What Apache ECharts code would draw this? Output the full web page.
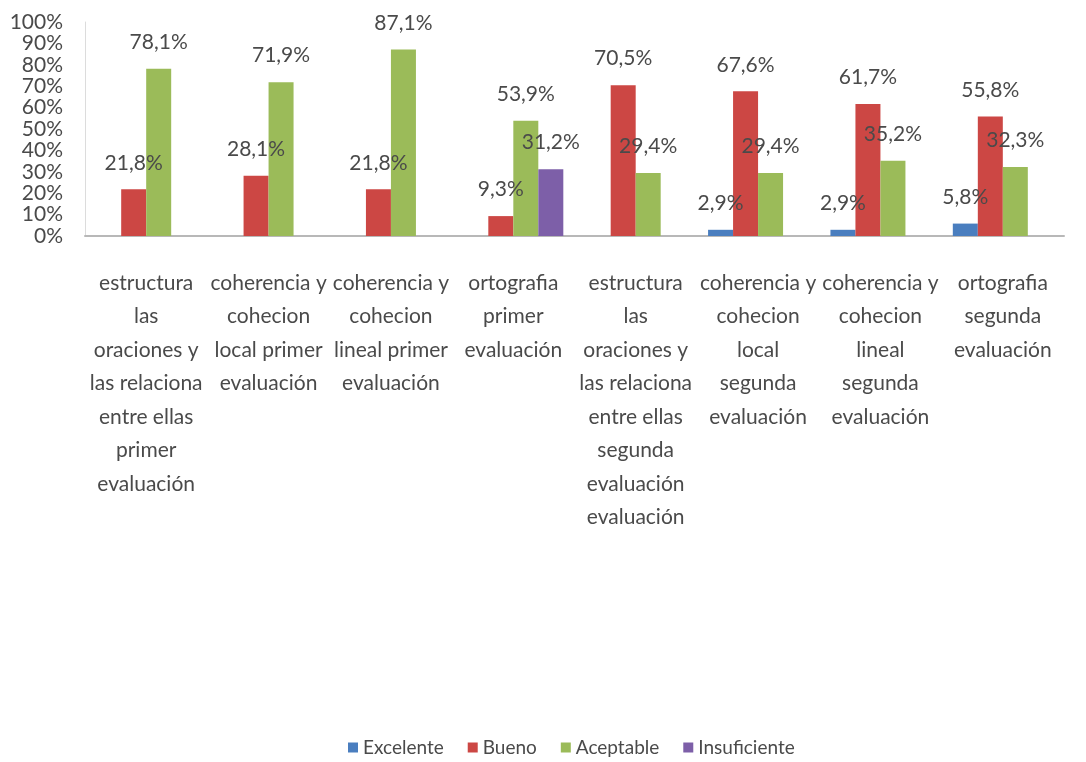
<!DOCTYPE html>
<html>
<head>
<meta charset="utf-8">
<script src="https://cdn.jsdelivr.net/npm/echarts@6/dist/echarts.min.js"></script>
<style>
  html, body { margin: 0; padding: 0; background: #fff; }
  #chart { width: 1086px; height: 762px; }
</style>
</head>
<body>
<div id="chart"></div>
<script>
// categorias (saltos de linea como en el original)
const categories = [
  'estructura\nlas\noraciones y\nlas relaciona\nentre ellas\nprimer\nevaluación',
  'coherencia y\ncohecion\nlocal primer\nevaluación',
  'coherencia y\ncohecion\nlineal primer\nevaluación',
  'ortografia\nprimer\nevaluación',
  'estructura\nlas\noraciones y\nlas relaciona\nentre ellas\nsegunda\nevaluación\nevaluación',
  'coherencia y\ncohecion\nlocal\nsegunda\nevaluación',
  'coherencia y\ncohecion\nlineal\nsegunda\nevaluación',
  'ortografia\nsegunda\nevaluación'
]
const excelente = [0, 0, 0, 0, 0, 2.9, 2.9, 5.8]
const bueno = [21.8, 28.1, 21.8, 9.3, 70.5, 67.6, 61.7, 55.8]
const aceptable = [78.1, 71.9, 87.1, 53.9, 29.4, 29.4, 35.2, 32.3]
const insuficiente = [0, 0, 0, 31.2, 0, 0, 0, 0]

const FONT = 'Lato'
const TEXT = '#4a4a4a'

const fmt = p => p.value ? p.value.toFixed(1).replace('.', ',') + '%' : ''

const makeSeries = (name, data, color) => ({
  name,
  type: 'bar',
  data,
  barWidth: 25,
  barGap: '0%',
  itemStyle: { color },
  label: {
    show: true,
    position: 'top',
    distance: 16,
    formatter: fmt,
    color: TEXT,
    fontFamily: FONT,
    fontSize: 21
  }
})

const myChart = echarts.init(document.getElementById('chart'))

const option = {
  animation: false,
  backgroundColor: '#fff',
  grid: {
    left: 85,
    right: 22,
    top: 22,
    bottom: 526
  },
  legend: {
    left: 343,
    top: 733,
    itemWidth: 10,
    itemHeight: 10,
    itemGap: 24,
    icon: 'rect',
    textStyle: { fontFamily: FONT, fontSize: 19, color: TEXT },
    data: ['Excelente', 'Bueno', 'Aceptable', 'Insuficiente']
  },
  xAxis: {
    type: 'category',
    data: categories,
    axisLine: { show: true, lineStyle: { color: '#b8b8b8', width: 2 } },
    axisTick: { show: false },
    axisLabel: {
      interval: 0,
      margin: 30,
      color: TEXT,
      fontFamily: FONT,
      fontSize: 21,
      lineHeight: 33.5
    }
  },
  yAxis: {
    type: 'value',
    min: 0,
    max: 100,
    interval: 10,
    splitLine: { show: false },
    axisLine: { show: true, lineStyle: { color: '#dcdcdc', width: 1 } },
    axisTick: { show: false },
    axisLabel: {
      formatter: '{value}%',
      margin: 22,
      color: TEXT,
      fontFamily: FONT,
      fontSize: 21,
      lineHeight: 21
    }
  },
  series: [
    makeSeries('Excelente', excelente, '#4a7ebf'),
    makeSeries('Bueno', bueno, '#cc4744'),
    makeSeries('Aceptable', aceptable, '#9bbb59'),
    makeSeries('Insuficiente', insuficiente, '#7d5fa8')
  ]
}

myChart.setOption(option)

window.addEventListener('resize', () => myChart.resize())
</script>
</body>
</html>
